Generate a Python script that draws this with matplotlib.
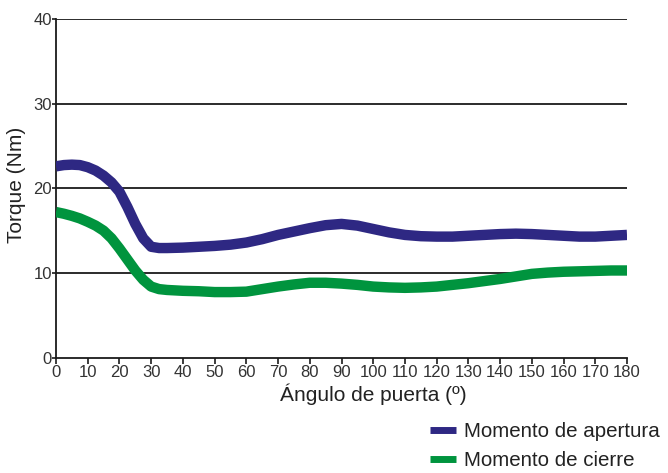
import matplotlib
matplotlib.use("Agg")
import matplotlib.pyplot as plt

angles = [0, 2.5, 5, 7.5, 10, 12.5, 15, 17.5, 20, 22.5, 25, 27.5, 30, 32.5, 35,
          40, 45, 50, 55, 60, 65, 70, 75, 80, 85, 90, 95, 100, 105, 110, 115, 120,
          125, 130, 135, 140, 145, 150, 155, 160, 165, 170, 175, 180]
apertura = [22.6, 22.75, 22.8, 22.75, 22.5, 22.1, 21.5, 20.7, 19.6, 17.8, 15.8, 14.1, 13.1, 12.95, 12.95,
            13.0, 13.1, 13.2, 13.35, 13.6, 14.0, 14.5, 14.9, 15.3, 15.65, 15.8, 15.6, 15.2, 14.8, 14.5,
            14.35, 14.3, 14.3, 14.4, 14.5, 14.6, 14.65, 14.6, 14.5, 14.4, 14.3, 14.3, 14.4, 14.5]
cierre = [17.2, 17.0, 16.75, 16.45, 16.05, 15.6, 15.0, 14.1, 12.9, 11.6, 10.3, 9.2, 8.4, 8.1, 8.0,
          7.9, 7.85, 7.75, 7.75, 7.8, 8.1, 8.4, 8.65, 8.85, 8.85, 8.75, 8.6, 8.4, 8.3, 8.25,
          8.3, 8.4, 8.6, 8.8, 9.05, 9.3, 9.6, 9.9, 10.05, 10.15, 10.2, 10.25, 10.3, 10.3]
xticks = list(range(0, 181, 10))
yticks = [0, 10, 20, 30, 40]
labels = ["Momento de apertura", "Momento de cierre"]

plt.rcParams['font.family'] = ['Liberation Sans', 'DejaVu Sans']

W, H = 668, 473
fig = plt.figure(figsize=(W/100, H/100), dpi=100)
ax = fig.add_axes([56/W, 1-357.7/H, 571/W, (357.7-19)/H])

for yv in yticks[1:]:
    ax.axhline(yv, color='#1a1a1a', lw=1.3, zorder=1)

ax.plot(angles, apertura, color='#2E2883', lw=7.5, solid_capstyle='butt', solid_joinstyle='round', zorder=3, label=labels[0])
ax.plot(angles, cierre, color='#00943E', lw=7.5, solid_capstyle='butt', solid_joinstyle='round', zorder=3, label=labels[1])

ax.set_xlim(0, 180)
ax.set_ylim(0, 40)
ax.set_xticks(xticks)
ax.set_yticks(yticks)
for s in ['top', 'right']:
    ax.spines[s].set_visible(False)
for s in ['left', 'bottom']:
    ax.spines[s].set_color('#1a1a1a')
    ax.spines[s].set_linewidth(1.3)
ax.tick_params(axis='y', length=3, width=1.2, pad=0, labelsize=12, colors='#1a1a1a', labelcolor='#333333')
ax.tick_params(axis='x', length=4, width=1.2, pad=1, labelsize=12, colors='#1a1a1a', labelcolor='#333333')

fig.text(17/W, 1-185/H, "Torque (Nm)", rotation=90, ha='center', va='center', fontsize=15, color='#222222')
fig.text(373/W, 1-401/H, "Ángulo de puerta (º)", ha='center', va='baseline', fontsize=15, color='#222222')

leg = fig.legend(loc='upper left', bbox_to_anchor=(429.5/W, 1-422/H), frameon=False,
                 fontsize=14.8, handlelength=1.27, handletextpad=0.42, labelspacing=0.5,
                 borderpad=0, borderaxespad=0)
for line in leg.get_lines():
    line.set_linewidth(5)
    line.set_solid_capstyle('butt')
for t in leg.get_texts():
    t.set_color('#222222')

fig.savefig("out.png", dpi=100)
